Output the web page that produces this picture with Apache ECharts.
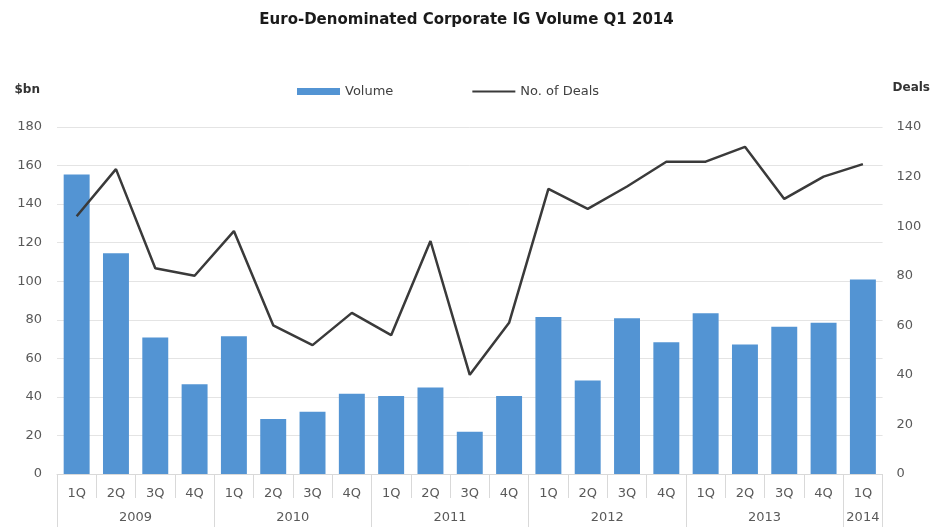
<!DOCTYPE html>
<html>
<head>
<meta charset="utf-8">
<script src="https://cdn.jsdelivr.net/npm/echarts@6/dist/echarts.min.js"></script>
<style>
  html, body { margin: 0; padding: 0; background: #fff; }
  #chart { width: 933px; height: 527px; }
</style>
</head>
<body>
<div id="chart"></div>
<script>
// quarters and the year each one belongs to
const quarters = ['1Q','2Q','3Q','4Q','1Q','2Q','3Q','4Q','1Q','2Q','3Q','4Q','1Q','2Q','3Q','4Q','1Q','2Q','3Q','4Q','1Q'];
const years = ['2009','2009','2009','2009','2010','2010','2010','2010','2011','2011','2011','2011',
  '2012','2012','2012','2012','2013','2013','2013','2013','2014'];
// $bn
const volume = [155.3, 114.5, 70.8, 46.6, 71.5, 28.5, 32.3, 41.6, 40.4, 44.9, 21.9, 40.4,
  81.4, 48.5, 80.8, 68.4, 83.4, 67.2, 76.4, 78.4, 100.9];
// number of deals
const deals = [104, 123, 83, 80, 98, 60, 52, 65, 56, 94, 40, 61,
  115, 107, 116, 126, 126, 132, 111, 120, 125];
const leftTicks = [0, 180, 20];
const rightTicks = [0, 140, 20];

const font = 'DejaVu Sans';
const txt = '#595959';

const chart = echarts.init(document.getElementById('chart'));

const option = {
  animation: false,
  title: {
    text: 'Euro-Denominated Corporate IG Volume Q1 2014',
    left: 'center',
    top: 8,
    textStyle: { fontFamily: font, fontSize: 15, fontWeight: 'bold', color: '#1a1a1a' }
  },
  legend: {
    left: 292,
    top: 80,
    itemWidth: 43,
    itemHeight: 7,
    itemGap: 78,
    textStyle: { fontFamily: font, fontSize: 13, color: '#404040' },
    data: [
      { name: 'Volume', icon: 'rect' },
      { name: 'No. of Deals', itemStyle: { opacity: 0 } }
    ]
  },
  grid: { left: 57, right: 50, top: 127, bottom: 53 },
  xAxis: [{
    type: 'category',
    data: quarters,
    axisLine: { lineStyle: { color: '#d9d9d9' } },
    axisTick: { show: true, interval: 0, length: 24, lineStyle: { color: '#d9d9d9' } },
    axisLabel: { interval: 0, margin: 13, fontFamily: font, fontSize: 13, color: txt }
  }, {
    // year row: ticks every 4 quarters mark the year boundaries
    type: 'category',
    position: 'bottom',
    data: years,
    axisLine: { show: false },
    axisTick: { show: true, interval: 3, length: 54, lineStyle: { color: '#d9d9d9' } },
    axisLabel: {
      interval: 0,
      margin: 37,
      fontFamily: font, fontSize: 13, color: txt,
      formatter: (v, i) => {
        const first = years.indexOf(v);
        const last = years.lastIndexOf(v);
        const n = last - first + 1;
        const mid = first + Math.floor((n - 1) / 2);
        if (i !== mid) return '';
        return n % 2 === 0 ? '{s|' + v + '}' : v;
      },
      rich: { s: { padding: [0, 0, 0, 39], fontFamily: font, fontSize: 13, color: txt } }
    }
  }],
  yAxis: [{
    type: 'value',
    name: '$bn',
    nameGap: 31,
    nameTextStyle: { fontFamily: font, fontSize: 12, fontWeight: 'bold', color: '#333', align: 'right', padding: [0, 17, 0, 0] },
    min: leftTicks[0], max: leftTicks[1], interval: leftTicks[2],
    axisLine: { show: false },
    axisTick: { show: false },
    axisLabel: { margin: 15, fontFamily: font, fontSize: 13, color: txt },
    splitLine: { lineStyle: { color: '#e4e4e4' } }
  }, {
    type: 'value',
    name: 'Deals',
    nameGap: 33,
    nameTextStyle: { fontFamily: font, fontSize: 12, fontWeight: 'bold', color: '#333', align: 'left', padding: [0, 0, 0, 10] },
    min: rightTicks[0], max: rightTicks[1], interval: rightTicks[2],
    axisLine: { show: false },
    axisTick: { show: false },
    axisLabel: { margin: 14, fontFamily: font, fontSize: 13, color: txt },
    splitLine: { show: false }
  }],
  series: [{
    name: 'Volume',
    type: 'bar',
    xAxisIndex: 0,
    yAxisIndex: 0,
    barWidth: '66%',
    itemStyle: { color: '#5394d3' },
    data: volume
  }, {
    name: 'No. of Deals',
    type: 'line',
    xAxisIndex: 0,
    yAxisIndex: 1,
    symbol: 'none',
    lineStyle: { color: '#3a3a3a', width: 2.5 },
    itemStyle: { color: '#3a3a3a' },
    data: deals
  }]
};

chart.setOption(option);
</script>
</body>
</html>
